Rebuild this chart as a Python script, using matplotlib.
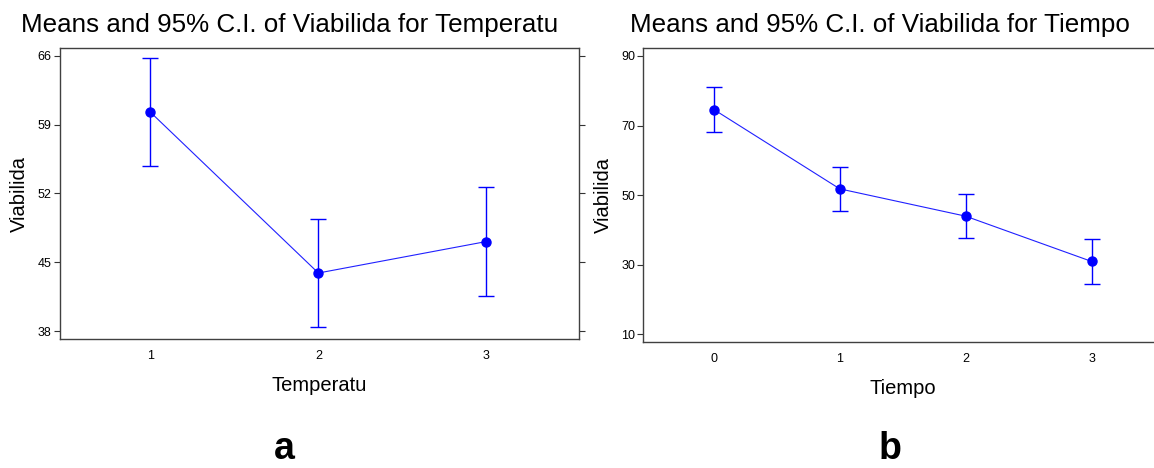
import matplotlib
matplotlib.use("Agg")
import matplotlib.pyplot as plt

# Temperatura panel
temp_levels = [1, 2, 3]
temp_means = [60.25, 43.9, 47.1]
temp_ci = [5.5, 5.5, 5.5]
temp_yticks = [38, 45, 52, 59, 66]

# Tiempo panel
time_levels = [0, 1, 2, 3]
time_means = [74.6, 51.8, 43.95, 30.95]
time_ci = [6.5, 6.4, 6.4, 6.4]
time_yticks = [10, 30, 50, 70, 90]

plt.rcParams["font.family"] = ["Liberation Sans", "DejaVu Sans"]

W, H = 1154, 468
fig = plt.figure(figsize=(W / 100, H / 100), dpi=100)


def px_axes(x0, x1, y0, y1):
    return fig.add_axes([x0 / W, 1 - y1 / H, (x1 - x0) / W, (y1 - y0) / H])


def draw_panel(ax, xs, means, ci, yticks, xlim, ylim, xlabel):
    ax.errorbar(xs, means, yerr=ci, fmt="none", ecolor="#0000ff",
                elinewidth=1.0, capsize=6, capthick=1.0)
    ax.plot(xs, means, color="#2020ff", lw=0.8, marker="o", ms=6.5,
            mec="#0000ff", mfc="#0000ff")
    ax.set_xlim(*xlim)
    ax.set_ylim(*ylim)
    ax.set_xticks(xs)
    ax.set_xticklabels([str(v) for v in xs])
    ax.set_yticks(yticks)
    ax.tick_params(axis="x", length=0, pad=8, labelsize=9)
    ax.tick_params(axis="y", length=4, width=0.8, labelsize=9, pad=2,
                   right=True, color="#333333")
    for s in ax.spines.values():
        s.set_color("#404040")
        s.set_linewidth(1.0)
    ax.set_ylabel("Viabilida", fontsize=14.5, labelpad=6)
    ax.set_xlabel(xlabel, fontsize=14.5, labelpad=10)


ax1 = px_axes(59.8, 578.6, 48.3, 339.3)
draw_panel(ax1, temp_levels, temp_means, temp_ci, temp_yticks,
           (0.46, 3.55), (37.16, 66.75), "Temperatu")

ax2 = px_axes(643.4, 1162, 48.3, 342.3)
draw_panel(ax2, time_levels, time_means, time_ci, time_yticks,
           (-0.56, 3.56), (7.7, 92.2), "Tiempo")

fig.text(290 / W, 1 - 25 / H, "Means and 95% C.I. of Viabilida for Temperatu",
         ha="center", va="center", fontsize=18.7)
fig.text(880 / W, 1 - 25 / H, "Means and 95% C.I. of Viabilida for Tiempo",
         ha="center", va="center", fontsize=18.7)

fig.text(284 / W, 1 - 449 / H, "a", ha="center", va="center",
         fontsize=27, fontweight="bold")
fig.text(890 / W, 1 - 449 / H, "b", ha="center", va="center",
         fontsize=27, fontweight="bold")

fig.savefig("out.png", dpi=100)
